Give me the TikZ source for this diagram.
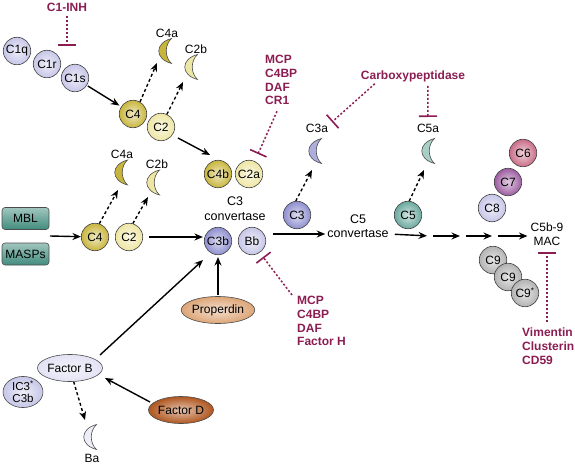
\documentclass[tikz,border=0pt]{standalone}
\usepackage{fontspec}
\setmainfont{Liberation Sans}
\usetikzlibrary{arrows.meta,shapes.geometric,calc}
\definecolor{lav}{HTML}{C6C6E8}
\definecolor{cthree}{HTML}{8E8ECF}
\definecolor{cfour}{HTML}{C8B53C}
\definecolor{ctwo}{HTML}{EEE6A4}
\definecolor{cfive}{HTML}{6AA89E}
\definecolor{csix}{HTML}{C96C86}
\definecolor{cseven}{HTML}{9C5CA0}
\definecolor{cnine}{HTML}{B2B2B2}
\definecolor{mbl}{HTML}{428C7E}
\definecolor{prop}{HTML}{DDA577}
\definecolor{facd}{HTML}{B0561E}
\definecolor{facb}{HTML}{E2E2F4}
\definecolor{maroon}{HTML}{8B1D52}
\definecolor{cfivea}{HTML}{A9CEC6}
\definecolor{cthreea}{HTML}{AEAEDC}
\definecolor{baclr}{HTML}{EEEEF8}
\newcommand\mycrescent[2]{\draw[draw=black!70, line width=0.6pt, fill=#2]
  ($(#1)+(6.5,-12.5)$) .. controls ($(#1)+(-10.5,-8)$) and ($(#1)+(-10.5,8)$) .. ($(#1)+(6.5,12.5)$)
  .. controls ($(#1)+(-0.5,6)$) and ($(#1)+(-0.5,-6)$) .. cycle;}
\begin{document}
\begin{tikzpicture}[x=1pt,y=-1pt,
  comp/.style={circle, draw=black!75, line width=0.6pt, minimum size=27.5pt, inner sep=0pt,
    font=\fontsize{12}{13}\selectfont, inner color=#1!30!white, outer color=#1},
  ell/.style={ellipse, draw=black!70, line width=0.6pt, minimum width=65pt, minimum height=27pt,
    inner sep=0pt, font=\fontsize{12}{13}\selectfont, inner color=#1!35!white, outer color=#1},
  boxn/.style={rectangle, rounded corners=3pt, draw=black!70, line width=0.6pt, minimum width=47pt,
    minimum height=22pt, top color=mbl!50!white, bottom color=mbl, font=\fontsize{12}{13}\selectfont},
  lbl/.style={font=\fontsize{12}{13.5}\selectfont, inner sep=0pt, align=center},
  cres/.style={minimum width=12pt, minimum height=24pt, inner sep=0pt},
  inhtxt/.style={text=maroon, font=\bfseries\fontsize{12}{13.8}\selectfont, align=left, inner sep=0pt},
  inh/.style={draw=maroon, line width=1.5pt, dash pattern=on 2pt off 2pt, -{Bar[width=18pt,line width=1.6pt]}},
  act/.style={-{Stealth[length=8.5pt,width=7pt]}, line width=1.4pt},
  cleave/.style={-{Stealth[length=8.5pt,width=7pt]}, line width=1.4pt, dash pattern=on 3pt off 2.5pt}
]
\useasboundingbox (0,0) rectangle (575,465);
% classical pathway
\node[comp=lav] (C1q) at (17,51) {C1q};
\node[comp=lav] (C1r) at (47,64) {C1r};
\node[comp=lav] (C1s) at (75,78) {C1s};
\node[inhtxt] (inh1) at (67,7) {C1-INH};
\coordinate (t1) at (67,46);
\node[comp=cfour] (C4T) at (133,114) {C4};
\node[comp=ctwo] (C2T) at (161,127) {C2};
\node[cres] (c4aT) at (165,51) {};
\mycrescent{c4aT}{cfour}
\node[lbl] (l4aT) at (167,33) {C4a};
\node[cres] (c2bT) at (191,67) {};
\mycrescent{c2bT}{ctwo}
\node[lbl] (l2bT) at (196,49.5) {C2b};
\node[comp=cfour] (C4b) at (218,174) {C4b};
\node[comp=ctwo] (C2a) at (249,174) {C2a};
\node[inhtxt, anchor=north west] (mcp1) at (265,55) {MCP\\C4BP\\DAF\\CR1};
\coordinate (t2) at (258,154);
\node[lbl, font=\fontsize{12.5}{15}\selectfont] (cv3) at (235,209) {C3\\convertase};
% lectin pathway
\node[boxn] (MBL) at (25.5,218.5) {MBL};
\node[boxn] (MASP) at (25.5,254) {MASPs};
\coordinate (mm) at (50,236);
\node[comp=cfour] (C4L) at (95,237) {C4};
\node[comp=ctwo] (C2L) at (129,237) {C2};
\node[cres] (c4aL) at (121,172.5) {};
\mycrescent{c4aL}{cfour}
\node[lbl] (l4aL) at (122,154) {C4a};
\node[cres] (c2bL) at (153,182.5) {};
\mycrescent{c2bL}{ctwo}
\node[lbl] (l2bL) at (157,164) {C2b};
% C3 convertase
\node[comp=cthree] (C3b) at (218,241) {C3b};
\node[comp=lav] (Bb) at (252,241) {Bb};
\node[comp=cthree] (C3) at (297,215) {C3};
\node[cres] (c3a) at (315,151) {};
\mycrescent{c3a}{cthreea}
\node[lbl] (l3a) at (317,128) {C3a};
\node[inhtxt] (carb) at (413,76) {Carboxypeptidase};
\coordinate (t3) at (332,122);
\coordinate (t4) at (428,117);
\node[lbl, font=\fontsize{12.5}{15}\selectfont] (cvC5) at (358,219) {C5};
\node[lbl, font=\fontsize{12.5}{15}\selectfont] (cv) at (358,234) {convertase};
\node[comp=cfive] (C5) at (408,215) {C5};
\node[cres] (c5a) at (428,151) {};
\mycrescent{c5a}{cfivea}
\node[lbl] (l5a) at (428,128) {C5a};
% terminal
\node[comp=csix] (C6) at (523,153) {C6};
\node[comp=cseven] (C7) at (508,182) {C7};
\node[comp=lav] (C8) at (492,208) {C8};
\node[lbl] (MAC) at (547,234) {C5b-9\\MAC};
\node[comp=cnine] (C9a) at (493,260) {C9};
\node[comp=cnine] (C9b) at (508,277) {C9};
\node[comp=cnine] (C9c) at (525,293) {C9\textsuperscript{*}};
\node[inhtxt, anchor=north west] (vim) at (522,328) {Vimentin\\Clusterin\\CD59};
\coordinate (t6) at (547,252);
\coordinate (p1) at (430,236);
\coordinate (p2) at (463,236);
\coordinate (p3) at (495,236);
\node[inhtxt, anchor=north west] (mcp2) at (297,296) {MCP\\C4BP\\DAF\\Factor H};
\coordinate (t5) at (263,257);
% alternative pathway
\node[ell=prop] (Prop) at (218,310) {Properdin};
\node[ell=facb] (FB) at (70,368) {Factor B};
\node[ellipse, draw=black!70, line width=0.6pt, minimum width=40pt, minimum height=31pt, inner sep=0pt,
  inner color=lav!30!white, outer color=lav, align=center, font=\fontsize{11.5}{12}\selectfont] (IC3) at (23,392) {IC3\textsuperscript{*}\\C3b};
\node[ell=facd] (FD) at (181,410) {Factor D};
\node[cres] (Ba) at (90,437) {};
\mycrescent{Ba}{baclr}
\node[lbl] (lBa) at (92,458) {Ba};
% connectors
\draw[act, shorten <=1pt, shorten >=2pt] (C1s) -- (C4T);
\draw[act] ($(C2T)+(17,11)$) -- ($(C4b)+(-8,-19)$);
\draw[cleave] (C4T.60) -- ($(c4aT)+(-8,12)$);
\draw[cleave] (C2T.65) -- ($(c2bT)+(-8,15)$);
\draw[cleave] (C4L.72) -- ($(c4aL)+(-3,17.5)$);
\draw[cleave] (C2L.74) -- ($(c2bL)+(-5,14.5)$);
\draw[cleave] (C3.95) -- ($(c3a)+(-3,19)$);
\draw[cleave] (C5.85) -- ($(c5a)+(-4,19)$);
\draw[cleave] (FB.-75) -- ($(Ba)+(-5,-17)$);
\draw[act] (mm) -- (C4L);
\draw[act, shorten <=6pt, shorten >=1pt] (C2L.east) -- (C3b.west |- C2L.east);
\draw[act, shorten <=7pt, shorten >=2pt] (Bb.east |- cv.west) -- (cv.west);
\draw[act, shorten <=6pt, shorten >=3pt] (cv.east) -- (p1);
\draw[act, shorten <=3pt, shorten >=3pt] (p1) -- (p2);
\draw[act, shorten <=3pt, shorten >=3pt] (p2) -- (p3);
\draw[act, shorten <=3pt, shorten >=3pt] (p3) -- (MAC.west |- p3);
\draw[act, shorten <=1pt, shorten >=2pt] (Prop.north) -- (C3b.south);
\draw[act] ($(FB)+(30,-13)$) -- ($(C3b)+(-15,19)$);
\draw[act] ($(FD)+(-31,-8)$) -- ($(FB)+(35,10)$);
% inhibitions
\draw[inh, shorten <=5pt] (inh1.south) -- (t1);
\draw[inh] ($(mcp1.south west)+(12,6)$) -- (t2);
\draw[inh] ($(carb.south west)+(14,2)$) -- (t3);
\draw[inh] ($(carb.south west)+(67,4)$) -- (t4);
\draw[inh] ($(mcp2.north west)+(-5,-1)$) -- (t5);
\draw[inh] ($(vim.north west)+(25,-6)$) -- (t6);
\end{tikzpicture}
\end{document}
